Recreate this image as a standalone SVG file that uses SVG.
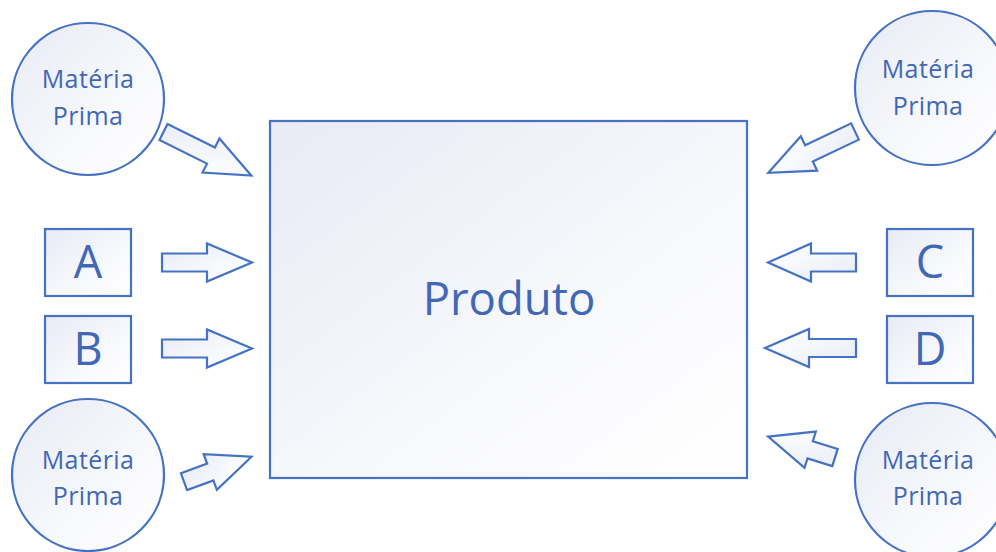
<svg xmlns="http://www.w3.org/2000/svg" width="996" height="552" viewBox="0 0 996 552">
<defs>
<linearGradient id="g" x1="0" y1="0" x2="1" y2="1">
<stop offset="0" stop-color="#e8eaf5"/>
<stop offset="0.6" stop-color="#f8f9fc"/>
<stop offset="1" stop-color="#ffffff"/>
</linearGradient>
<style>
.s{fill:url(#g);stroke:#4472c4;stroke-width:2.2}
.t{font-family:"Open Sans","Liberation Sans",sans-serif;fill:#4068b6;text-anchor:middle}
.c{font-size:25px;letter-spacing:0.4px}
.l{font-size:45px}
</style>
</defs>
<rect width="996" height="552" fill="#ffffff"/>
<g id="produto">
<rect class="s" x="270" y="121" width="477" height="357"/>
<text class="t" x="509" y="315" font-size="45.5">Produto</text>
</g>
<g id="mp-tl">
<circle class="s" cx="88" cy="99" r="76"/>
<text class="t c" x="88" y="88">Matéria</text>
<text class="t c" x="88" y="125">Prima</text>
</g>
<g id="mp-tr">
<circle class="s" cx="932" cy="88" r="77"/>
<text class="t c" x="928" y="78">Matéria</text>
<text class="t c" x="928" y="115">Prima</text>
</g>
<g id="mp-bl">
<circle class="s" cx="88" cy="475" r="76"/>
<text class="t c" x="88" y="469">Matéria</text>
<text class="t c" x="88" y="505">Prima</text>
</g>
<g id="mp-br">
<circle class="s" cx="932" cy="480" r="77"/>
<text class="t c" x="928" y="469">Matéria</text>
<text class="t c" x="928" y="505">Prima</text>
</g>
<g id="box-a">
<rect class="s" x="45" y="229" width="86" height="67"/>
<text class="t l" x="88" y="278">A</text>
</g>
<g id="box-b">
<rect class="s" x="45" y="316" width="86" height="67"/>
<text class="t l" x="88" y="365">B</text>
</g>
<g id="box-c">
<rect class="s" x="887" y="229" width="86" height="67"/>
<text class="t l" x="930" y="278">C</text>
</g>
<g id="box-d">
<rect class="s" x="887" y="316" width="86" height="67"/>
<text class="t l" x="930" y="365">D</text>
</g>
<g id="connectors">
<path class="s" transform="translate(163.5,132) rotate(26.4)" d="M0,-9 H53 V-19 L98,0 L53,19 V9 H0 Z"/>
<path class="s" transform="translate(855,131.5) rotate(154.5)" d="M0,-9 H51 V-19 L96,0 L51,19 V9 H0 Z"/>
<path class="s" transform="translate(162,262.5)" d="M0,-9 H45 V-19 L90,0 L45,19 V9 H0 Z"/>
<path class="s" transform="translate(162,348.5)" d="M0,-9 H45 V-19 L90,0 L45,19 V9 H0 Z"/>
<path class="s" transform="translate(856,262.5) rotate(180)" d="M0,-9 H45 V-19 L88,0 L45,19 V9 H0 Z"/>
<path class="s" transform="translate(856,348) rotate(180)" d="M0,-9 H47 V-19 L91,0 L47,19 V9 H0 Z"/>
<path class="s" transform="translate(184,481.7) rotate(-20.3)" d="M0,-9 H28 V-19 L72,0 L28,19 V9 H0 Z"/>
<path class="s" transform="translate(835,457.5) rotate(197.3)" d="M0,-9 H26 V-19 L70,0 L26,19 V9 H0 Z"/>
</g>
</svg>
